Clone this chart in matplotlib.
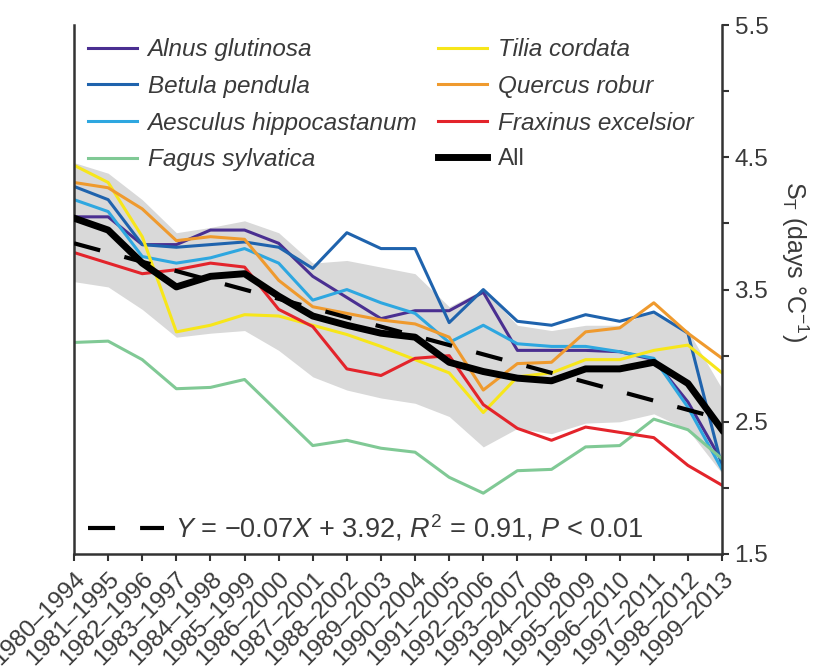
import numpy as np
import matplotlib
matplotlib.use("Agg")
from matplotlib import pyplot as plt
from matplotlib.lines import Line2D

plt.rcParams['font.family'] = ['Liberation Sans', 'DejaVu Sans']
plt.rcParams['mathtext.fontset'] = 'custom'
plt.rcParams['mathtext.rm'] = 'Liberation Sans'
plt.rcParams['mathtext.it'] = 'Liberation Sans:italic'

windows = ["1980–1994", "1981–1995", "1982–1996", "1983–1997", "1984–1998",
           "1985–1999", "1986–2000", "1987–2001", "1988–2002", "1989–2003",
           "1990–2004", "1991–2005", "1992–2006", "1993–2007", "1994–2008",
           "1995–2009", "1996–2010", "1997–2011", "1998–2012", "1999–2013"]

alnus = [4.05, 4.05, 3.84, 3.84, 3.95, 3.95, 3.85, 3.60, 3.44, 3.28,
         3.34, 3.34, 3.48, 3.04, 3.04, 3.04, 3.03, 2.97, 2.65, 2.20]
betula = [4.28, 4.18, 3.84, 3.82, 3.84, 3.86, 3.82, 3.66, 3.93, 3.81,
          3.81, 3.25, 3.50, 3.26, 3.23, 3.31, 3.26, 3.33, 3.17, 2.16]
aesculus = [4.18, 4.09, 3.75, 3.70, 3.74, 3.81, 3.70, 3.42, 3.50, 3.40,
            3.32, 3.10, 3.23, 3.09, 3.07, 3.07, 3.03, 2.98, 2.61, 2.14]
fagus = [3.10, 3.11, 2.97, 2.75, 2.76, 2.82, 2.57, 2.32, 2.36, 2.30,
         2.27, 2.08, 1.96, 2.13, 2.14, 2.31, 2.32, 2.52, 2.44, 2.22]
tilia = [4.44, 4.31, 3.90, 3.18, 3.23, 3.31, 3.30, 3.23, 3.16, 3.07,
         2.97, 2.87, 2.57, 2.84, 2.87, 2.97, 2.97, 3.04, 3.08, 2.87]
quercus = [4.31, 4.27, 4.11, 3.87, 3.90, 3.88, 3.57, 3.37, 3.32, 3.27,
           3.24, 3.14, 2.74, 2.94, 2.95, 3.18, 3.21, 3.40, 3.17, 2.98]
fraxinus = [3.78, 3.70, 3.62, 3.65, 3.70, 3.67, 3.35, 3.22, 2.90, 2.85,
            2.98, 3.00, 2.63, 2.45, 2.36, 2.46, 2.42, 2.38, 2.17, 2.02]
all_species = [4.04, 3.95, 3.70, 3.52, 3.60, 3.62, 3.45, 3.30, 3.23, 3.17,
               3.14, 2.95, 2.88, 2.83, 2.81, 2.90, 2.90, 2.95, 2.79, 2.44]

band_low = [3.56, 3.52, 3.35, 3.14, 3.17, 3.19, 3.04, 2.84, 2.74, 2.68,
            2.64, 2.54, 2.31, 2.45, 2.41, 2.49, 2.50, 2.56, 2.44, 2.11]
band_high = [4.46, 4.38, 4.18, 3.93, 3.97, 4.02, 3.93, 3.70, 3.72, 3.67,
             3.62, 3.37, 3.50, 3.23, 3.19, 3.23, 3.23, 3.34, 3.19, 2.75]

# regression shown in the figure: Y = -0.07X + 3.92 (X = window number)
slope, intercept = -0.07, 3.92

series = [
    ("Alnus glutinosa", alnus, '#4a2f91'),
    ("Betula pendula", betula, '#1f63ad'),
    ("Aesculus hippocastanum", aesculus, '#2ea7e0'),
    ("Fagus sylvatica", fagus, '#80c995'),
    ("Tilia cordata", tilia, '#f7e61a'),
    ("Quercus robur", quercus, '#ef9a2e'),
    ("Fraxinus excelsior", fraxinus, '#e3242b'),
]

txt = '#3a3a3a'
x = np.arange(len(windows))

fig = plt.figure(figsize=(8.3, 6.72), dpi=100)
ax = fig.add_axes([0.0892, 0.1756, 0.7807, 0.787])

ax.fill_between(x, band_low, band_high, color='#d9d9d9', lw=0, zorder=0)

handles = []
for name, vals, col in series:
    h, = ax.plot(x, vals, color=col, lw=2.2, zorder=2)
    handles.append(h)
h_all, = ax.plot(x, all_species, color='black', lw=5, zorder=3)

trend = intercept + slope * (x + 1)
h_trend, = ax.plot(x, trend, color='black', lw=3, dashes=(6.5, 6), zorder=4)

ax.set_xlim(0, len(windows) - 1)
ax.set_ylim(1.5, 5.5)

for s in ['left', 'bottom', 'right']:
    ax.spines[s].set_color('#333333')
    ax.spines[s].set_linewidth(1.8)
ax.spines['top'].set_visible(False)

ax.yaxis.tick_right()
ax.set_yticks([1.5, 2.5, 3.5, 4.5, 5.5])
ax.set_yticks([2.0, 3.0, 4.0, 5.0], minor=True)
ax.tick_params(axis='y', which='both', left=False, right=True, direction='out',
               length=5, width=1.5, color='#333333', labelsize=17.5,
               labelcolor=txt, pad=4)
ax.set_xticks(x)
ax.set_xticklabels(windows, rotation=45, ha='right', rotation_mode='anchor')
ax.tick_params(axis='x', direction='out', length=5, width=1.5, color='#333333',
               labelsize=17.5, labelcolor=txt, pad=5)

fig.text(795 / 830, 1 - 262 / 672, r"S$_{\mathrm{T}}$ (days °C$^{-1}$)",
         rotation=270, ha='center', va='center', fontsize=18, color=txt)

order = handles[:4] + handles[4:] + [h_all]
labels = [s[0] for s in series] + ["All"]
leg = ax.legend(order, labels, ncol=2, loc='upper left',
                bbox_to_anchor=(0.0216, 0.975), frameon=False, borderpad=0,
                borderaxespad=0, fontsize=17.5, handlelength=2.0,
                handletextpad=0.45, columnspacing=0.85, labelspacing=0.56)
for t in leg.get_texts():
    t.set_color(txt)
    if t.get_text() != "All":
        t.set_style('italic')

ax.add_artist(leg)
trend_handle = Line2D([], [], color='black', lw=3, dashes=(6.5, 6))
leg2 = ax.legend([trend_handle],
                 [r"$Y$ = −0.07$X$ + 3.92, $R^2$ = 0.91, $P$ < 0.01"],
                 loc='lower left', bbox_to_anchor=(0.0216, 0.02), frameon=False,
                 borderpad=0, borderaxespad=0, fontsize=19.5, handlelength=2.8,
                 handletextpad=0.4)
for t in leg2.get_texts():
    t.set_color(txt)

fig.savefig("out.png", dpi=100)
